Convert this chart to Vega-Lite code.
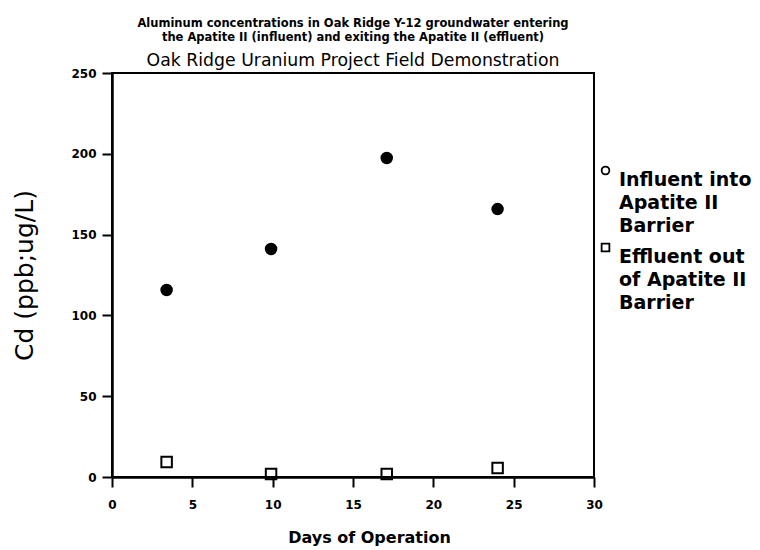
{
  "$schema": "https://vega.github.io/schema/vega-lite/v6.json",
  "autosize": {"type": "none"},
  "width": 482,
  "height": 404,
  "padding": {"left": 112, "top": 73, "right": 166, "bottom": 73},
  "background": "white",
  "config": {
    "font": "DejaVu Sans",
    "view": {"stroke": "black", "strokeWidth": 2},
    "axis": {"grid": false, "domainColor": "black", "domainWidth": 2.5, "tickColor": "black", "tickWidth": 2, "labelColor": "black", "titleColor": "black"},
    "style": {"guide-label": {"lineHeight": 23}}
  },
  "title": {
    "text": ["Aluminum concentrations in Oak Ridge Y-12 groundwater entering", "the Apatite II (influent) and exiting the Apatite II (effluent)"],
    "subtitle": "Oak Ridge Uranium Project Field Demonstration",
    "fontSize": 11.5,
    "fontWeight": "bold",
    "lineHeight": 14,
    "subtitleFontSize": 17.3,
    "subtitleColor": "black",
    "subtitlePadding": 8,
    "color": "black",
    "anchor": "middle",
    "offset": -2
  },
  "data": {
    "values": [
      {"series": "Influent into Apatite II Barrier", "day": 3.4, "value": 115.7},
      {"series": "Influent into Apatite II Barrier", "day": 9.9, "value": 141.1},
      {"series": "Influent into Apatite II Barrier", "day": 17.1, "value": 197.4},
      {"series": "Influent into Apatite II Barrier", "day": 24.0, "value": 165.8},
      {"series": "Effluent out of Apatite II Barrier", "day": 3.4, "value": 9.3},
      {"series": "Effluent out of Apatite II Barrier", "day": 9.9, "value": 1.9},
      {"series": "Effluent out of Apatite II Barrier", "day": 17.1, "value": 1.9},
      {"series": "Effluent out of Apatite II Barrier", "day": 24.0, "value": 5.6}
    ]
  },
  "encoding": {
    "x": {
      "field": "day", "type": "quantitative",
      "scale": {"domain": [0, 30], "nice": false, "zero": false},
      "axis": {"values": [0, 5, 10, 15, 20, 25, 30], "title": "Days of Operation", "titleFontSize": 16, "titleFontWeight": "bold", "titlePadding": 19, "titleX": 257, "labelFontSize": 12, "labelFontWeight": "bold", "tickSize": 10, "labelPadding": 12, "labelFlush": false}
    },
    "y": {
      "field": "value", "type": "quantitative",
      "scale": {"domain": [0, 250], "nice": false},
      "axis": {"values": [0, 50, 100, 150, 200, 250], "title": "Cd (ppb;ug/L)", "titleFontSize": 25, "titleFontWeight": "normal", "titlePadding": 33, "labelFontSize": 12, "labelFontWeight": "bold", "tickSize": 10, "labelPadding": 6, "labelFlush": false}
    }
  },
  "layer": [
    {
      "mark": {"type": "point", "filled": false, "color": "black", "stroke": "black", "strokeWidth": 2, "size": 110, "opacity": 1},
      "encoding": {
        "shape": {
          "field": "series", "type": "nominal",
          "scale": {"domain": ["Influent into Apatite II Barrier", "Effluent out of Apatite II Barrier"], "range": ["circle", "square"]},
          "legend": {
            "title": null,
            "orient": "none",
            "legendX": 484,
            "legendY": 88,
            "labelFontSize": 19,
            "labelFontWeight": "bold",
            "labelColor": "black",
            "labelBaseline": "top",
            "labelOffset": 4,
            "labelLimit": 200,
            "symbolSize": 60,
            "symbolStrokeColor": "black",
            "symbolStrokeWidth": 1.8,
            "rowPadding": 2,
            "labelExpr": "datum.label == 'Influent into Apatite II Barrier' ? ['Influent into', 'Apatite II', 'Barrier'] : ['Effluent out', 'of Apatite II', 'Barrier']"
          }
        }
      }
    },
    {
      "transform": [{"filter": "datum.series == 'Influent into Apatite II Barrier'"}],
      "mark": {"type": "point", "shape": "circle", "filled": true, "color": "black", "size": 110, "opacity": 1}
    }
  ]
}
